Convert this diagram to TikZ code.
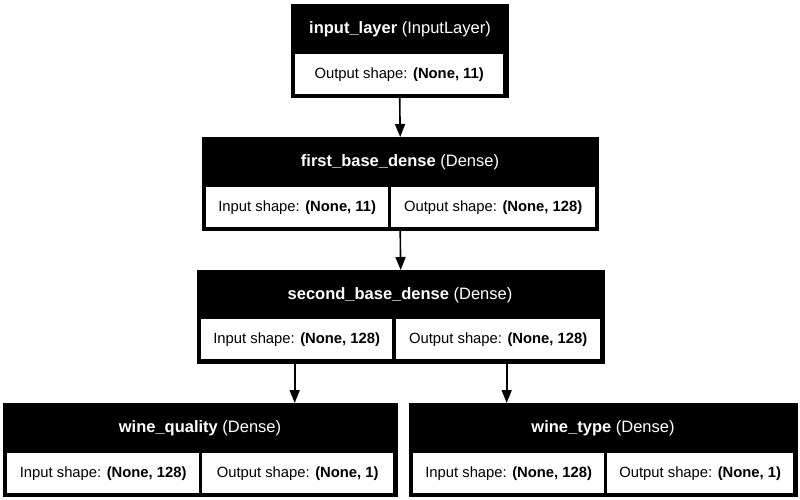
\documentclass[tikz,border=0pt]{standalone}
\usepackage{fontspec}
\setmainfont{Liberation Sans}
\usetikzlibrary{arrows.meta, positioning}

\begin{document}
\begin{tikzpicture}[x=1pt, y=-1pt,
    layer/.style={fill=black, draw=black, inner sep=0pt, minimum height=93pt, anchor=north west},
    title/.style={text=white, inner sep=0pt, font=\fontsize{16.5}{20}\selectfont},
    cell/.style={fill=white, inner sep=0pt, minimum height=40pt, anchor=north west,
      font=\fontsize{14.8}{18}\selectfont},
    flow/.style={-{Triangle[width=10pt, length=13pt]}, line width=1.6pt}]
  \useasboundingbox (0,0) rectangle (800,500);
  % input_layer
  \node[layer, minimum width=217pt] (inp) at (291,4) {};
  \node[title] (inp-t) at (400,29) {\textbf{input\_layer} (InputLayer)};
  \node[cell, minimum width=208pt] (inp-out) at (295,54) {Output shape: \textbf{(None, 11)}};
  % first_base_dense
  \node[layer, minimum width=396pt] (fbd) at (202,137) {};
  \node[title] (fbd-t) at (400,162) {\textbf{first\_base\_dense} (Dense)};
  \node[cell, minimum width=182pt] (fbd-in) at (206,187) {Input shape: \textbf{(None, 11)}};
  \node[cell, minimum width=204pt] (fbd-out) at (391,187) {Output shape: \textbf{(None, 128)}};
  % second_base_dense
  \node[layer, minimum width=407pt] (sbd) at (197,270) {};
  \node[title] (sbd-t) at (400,295) {\textbf{second\_base\_dense} (Dense)};
  \node[cell, minimum width=191pt] (sbd-in) at (201,319) {Input shape: \textbf{(None, 128)}};
  \node[cell, minimum width=204pt] (sbd-out) at (396,319) {Output shape: \textbf{(None, 128)}};
  % wine_quality
  \node[layer, minimum width=394pt] (wq) at (3,403) {};
  \node[title] (wq-t) at (200,428) {\textbf{wine\_quality} (Dense)};
  \node[cell, minimum width=192pt] (wq-in) at (7,453) {Input shape: \textbf{(None, 128)}};
  \node[cell, minimum width=191pt] (wq-out) at (202,453) {Output shape: \textbf{(None, 1)}};
  % wine_type
  \node[layer, minimum width=388pt] (wt) at (409,403) {};
  \node[title] (wt-t) at (603,428) {\textbf{wine\_type} (Dense)};
  \node[cell, minimum width=191pt] (wt-in) at (413,453) {Input shape: \textbf{(None, 128)}};
  \node[cell, minimum width=186pt] (wt-out) at (607,453) {Output shape: \textbf{(None, 1)}};

  \draw[flow] (inp.south) -- (fbd.north);
  \draw[flow] (fbd.south) -- (sbd.north);
  \draw[flow] ([xshift=-106pt]sbd.south) -- ([xshift=-106pt]sbd.south |- wq.north);
  \draw[flow] ([xshift=106pt]sbd.south) -- ([xshift=106pt]sbd.south |- wt.north);
\end{tikzpicture}
\end{document}
